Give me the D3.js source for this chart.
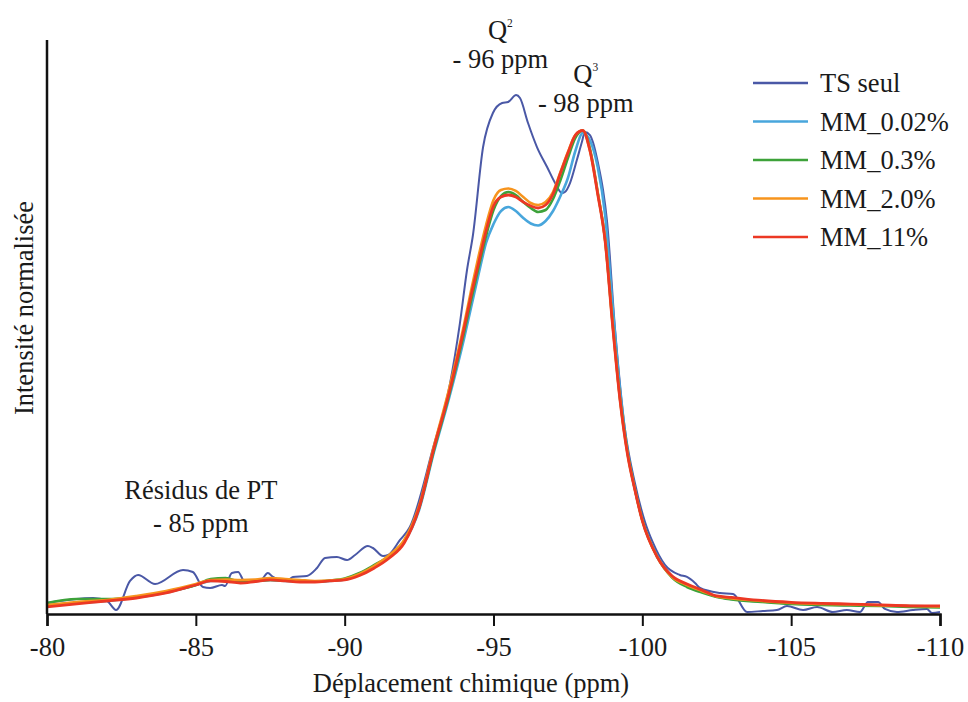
<!DOCTYPE html>
<html><head><meta charset="utf-8">
<script src="https://cdn.jsdelivr.net/npm/d3@7"></script>
<style>
html,body{margin:0;padding:0;background:#fff;}
svg{display:block;}
</style></head>
<body><div id="chart"></div>
<script>
// ---- data ----
const seriesNames = ["TS seul", "MM_0.02%", "MM_0.3%", "MM_2.0%", "MM_11%"];
const seriesColors = ["#4a58a6", "#48a6dc", "#3da23a", "#f7941d", "#ec3824"];
const xTicks = [-80, -85, -90, -95, -100, -105, -110];

const ppmTS = [-80, -81.55, -82.02, -82.32, -82.79, -83.06, -83.63, -84.57, -84.90, -85.24, -85.48, -85.88, -85.98, -86.21, -86.42, -86.65, -87.16, -87.42, -87.59, -88.06, -88.26, -88.73, -89.07, -89.34, -89.74, -90.08, -90.35, -90.78, -90.95, -91.29, -91.46, -91.86, -92.19, -92.97, -93.54, -93.87, -94.11, -94.31, -94.65, -94.98, -95.29, -95.49, -95.76, -95.89, -96.16, -96.46, -96.80, -97.07, -97.30, -97.40, -97.57, -97.80, -97.97, -98.07, -98.24, -98.34, -98.51, -98.68, -98.81, -99.08, -99.42, -99.75, -100.09, -100.36, -100.76, -101.26, -101.50, -101.77, -101.94, -102.61, -103.05, -103.52, -104.05, -104.52, -104.86, -105.40, -105.87, -106.40, -106.87, -107.31, -107.58, -107.92, -108.15, -108.55, -109.09, -109.56, -109.73, -110];
const tsSeul = [1.05, 2.09, 1.46, -0.42, 5.65, 6.90, 5.02, 7.95, 7.53, 4.39, 4.18, 4.81, 4.60, 7.32, 7.53, 5.44, 5.65, 7.32, 6.49, 5.65, 6.49, 6.69, 8.37, 10.46, 10.67, 10.04, 11.09, 12.97, 12.55, 10.88, 11.09, 14.23, 16.95, 33.5, 47.0, 59.5, 70.71, 78.03, 96.44, 103.56, 105.65, 105.86, 107.32, 106.69, 101.46, 96.44, 92.26, 88.91, 86.82, 87.03, 88.91, 93.72, 97.49, 99.58, 98.95, 97.49, 93.10, 87.45, 81.17, 58.58, 37.24, 26.15, 17.99, 13.60, 9.00, 6.90, 6.49, 5.23, 4.18, 3.14, 2.93, -0.84, -0.63, -0.42, 0.42, -0.42, 0.21, -0.84, -0.42, -0.84, 1.26, 1.26, -0.21, -0.84, -0.42, -0.21, -1.05, -0.84];

const ppmGrid = [-80, -81, -82, -83, -84, -85, -85.5, -86, -86.5, -87, -87.5, -88, -88.5, -89, -89.5, -90, -90.5, -91, -91.5, -92, -92.5, -93, -93.5, -94, -94.25, -94.5, -94.75, -95, -95.25, -95.5, -95.75, -96, -96.25, -96.5, -96.75, -97, -97.25, -97.5, -97.75, -98, -98.25, -98.5, -98.75, -99, -99.25, -99.5, -99.75, -100, -100.5, -101, -101.5, -102, -102.5, -103, -104, -105, -106, -107, -108, -109, -110];
const mm002 = [0.63, 1.05, 1.46, 2.20, 3.24, 4.81, 5.65, 5.75, 5.44, 5.65, 5.86, 5.65, 5.54, 5.54, 5.65, 5.96, 7.01, 8.58, 10.67, 13.81, 20.50, 32.64, 43.72, 56.07, 62.97, 69.87, 76.36, 80.33, 83.05, 83.89, 83.05, 81.59, 80.44, 80.02, 80.96, 83.05, 86.19, 89.96, 95.61, 99.37, 97.70, 92.26, 82.2, 63.39, 45.61, 33.05, 24.90, 18.41, 10.88, 6.59, 4.71, 3.45, 2.41, 1.88, 1.36, 0.94, 0.73, 0.63, 0.52, 0.42, 0.31];
const mm03 = [1.05, 1.88, 1.88, 2.30, 3.35, 4.81, 6.07, 6.28, 5.44, 5.65, 5.86, 5.75, 5.65, 5.54, 5.75, 6.17, 7.32, 9.00, 10.88, 14.02, 20.92, 33.05, 44.35, 57.32, 64.44, 71.34, 77.82, 83.26, 86.19, 87.03, 86.40, 84.94, 83.68, 82.85, 83.26, 85.56, 89.54, 94.14, 98.33, 99.9, 95.82, 87.03, 76.99, 59.83, 43.93, 32.64, 24.90, 18.41, 10.67, 6.38, 4.39, 3.24, 2.30, 1.78, 1.26, 0.84, 0.63, 0.52, 0.42, 0.21, 0.10];
const mm20 = [0.63, 1.26, 1.67, 2.51, 3.56, 5.02, 5.86, 5.96, 5.86, 5.96, 6.28, 6.07, 5.86, 5.65, 5.75, 6.07, 7.11, 8.79, 11.09, 14.23, 21.34, 33.89, 45.61, 59.0, 66.53, 73.64, 80.13, 85.36, 87.45, 87.76, 87.24, 85.98, 84.73, 84.31, 84.94, 87.03, 91.21, 95.40, 98.95, 99.9, 95.40, 86.82, 76.99, 59.5, 43.7, 32.4, 24.8, 18.3, 10.67, 6.49, 4.81, 3.56, 2.41, 1.99, 1.46, 1.05, 0.84, 0.73, 0.52, 0.42, 0.31];
const mm11 = [0.21, 0.84, 1.46, 2.09, 3.14, 4.81, 5.65, 5.54, 5.23, 5.54, 5.86, 5.65, 5.44, 5.44, 5.65, 5.86, 6.80, 8.37, 10.46, 13.60, 20.92, 33.47, 44.77, 58.16, 65.48, 72.18, 78.87, 84.10, 85.98, 86.40, 85.98, 84.94, 84.10, 83.68, 84.31, 86.61, 91.00, 95.19, 98.95, 99.9, 95.40, 86.61, 76.78, 59.21, 43.51, 32.22, 24.69, 18.20, 10.67, 6.69, 5.02, 3.77, 2.51, 2.20, 1.57, 1.19, 0.98, 0.82, 0.63, 0.46, 0.42];

const annotations = [
  {main: "Q", sup: "2", ppm: -95.23, val: 119.0, sub: "- 96 ppm", val2: 113.0},
  {main: "Q", sup: "3", ppm: -98.1, val: 109.8, sub: "- 98 ppm", val2: 103.8},
];
const residus = {ppm: -85.17, lines: ["Résidus de PT", "- 85 ppm"], vals: [22.8, 15.9]};

// ---- layout ----
const FONT = "Liberation Serif";
const FS = 26.5;
const INK = "#1a1a1a";
const W = 968, H = 702;
const svg = d3.select("#chart").append("svg").attr("width", W).attr("height", H)
  .attr("font-family", FONT);
svg.append("rect").attr("width", W).attr("height", H).attr("fill", "#fff");

const x = d3.scaleLinear().domain([-80, -110]).range([47, 940]);
const y = d3.scaleLinear().domain([-1.26, 118.83]).range([614, 40]);

const series = [
  {name: seriesNames[0], color: seriesColors[0], xs: ppmTS, ys: tsSeul, w: 2},
  {name: seriesNames[1], color: seriesColors[1], xs: ppmGrid, ys: mm002, w: 2.6},
  {name: seriesNames[2], color: seriesColors[2], xs: ppmGrid, ys: mm03, w: 2.6},
  {name: seriesNames[3], color: seriesColors[3], xs: ppmGrid, ys: mm20, w: 2.6},
  {name: seriesNames[4], color: seriesColors[4], xs: ppmGrid, ys: mm11, w: 2.8},
];

const line = d3.line().x(d => x(d[0])).y(d => y(d[1])).curve(d3.curveMonotoneX);

svg.append("g").selectAll("path").data(series).join("path")
  .attr("fill", "none")
  .attr("stroke", d => d.color)
  .attr("stroke-width", d => d.w)
  .attr("stroke-linejoin", "round")
  .attr("d", d => line(d.xs.map((p, i) => [p, d.ys[i]])));

// axes
const xAxis = d3.axisBottom(x).tickValues(xTicks).tickSize(12).tickPadding(11)
  .tickFormat(d => String(d));
const gx = svg.append("g").attr("transform", `translate(0,${y.range()[0]})`).call(xAxis)
  .attr("font-family", FONT).attr("font-size", FS);
gx.select(".domain").attr("stroke", "#111").attr("stroke-width", 2.5);
gx.selectAll(".tick line").attr("stroke", "#111").attr("stroke-width", 2);
gx.selectAll(".tick text").attr("font-size", FS).attr("fill", INK).attr("font-family", FONT);

svg.append("line").attr("x1", x(-80)).attr("x2", x(-80))
  .attr("y1", y.range()[1]).attr("y2", y.range()[0])
  .attr("stroke", "#111").attr("stroke-width", 2.5);

function txt(sel) {
  return sel.attr("font-family", FONT).attr("font-size", FS).attr("fill", INK);
}

// axis titles
txt(svg.append("text")).attr("x", 471).attr("y", 692).attr("text-anchor", "middle")
  .text("Déplacement chimique (ppm)");
txt(svg.append("text")).attr("transform", "translate(33,308) rotate(-90)")
  .attr("text-anchor", "middle").text("Intensité normalisée");

// annotations (one text block each, lines as tspans)
annotations.forEach(a => {
  const t = txt(svg.append("text")).attr("text-anchor", "middle");
  t.append("tspan").attr("x", x(a.ppm)).attr("y", y(a.val)).text(a.main);
  t.append("tspan").attr("font-size", 11.5).attr("dy", -12).text(a.sup);
  t.append("tspan").attr("x", x(a.ppm)).attr("y", y(a.val2)).text(a.sub);
});
{
  const t = txt(svg.append("text")).attr("text-anchor", "middle");
  residus.lines.forEach((s, i) => {
    t.append("tspan").attr("x", x(residus.ppm)).attr("y", y(residus.vals[i])).text(s);
  });
}

// legend
const leg = svg.append("g").attr("transform", "translate(753,83)");
const li = leg.selectAll("g").data(series).join("g")
  .attr("transform", (d, i) => `translate(0,${i * 38.5})`);
li.append("line").attr("x1", 0).attr("x2", 55).attr("stroke", d => d.color).attr("stroke-width", 2.6);
txt(li.append("text")).attr("x", 67).attr("y", 9).text(d => d.name);
</script></body></html>
